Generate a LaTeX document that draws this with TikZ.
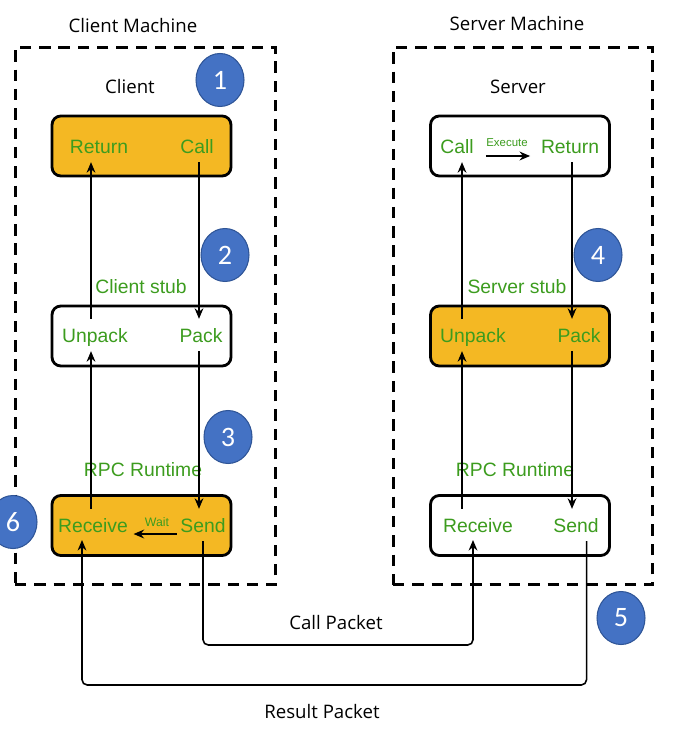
\documentclass[tikz,border=0pt]{standalone}
\usepackage{fontspec}
\setmainfont{Open Sans}
\newfontfamily\arialfont{Liberation Sans}
\newfontfamily\calfont{Carlito}
\usetikzlibrary{arrows.meta,shapes.geometric}
\definecolor{rpcorange}{HTML}{F4B823}
\definecolor{rpcgreen}{HTML}{3C9C1E}
\definecolor{rpcblue}{HTML}{4472C4}
\definecolor{rpcblueline}{HTML}{2F5597}
\tikzset{
  machine/.style={draw, line width=1.7pt, dash pattern=on 6.5pt off 4.5pt, minimum height=10.76cm, inner sep=0pt},
  stage/.style={draw, line width=1.6pt, rounded corners=5pt, minimum width=3.58cm, minimum height=1.2cm, inner sep=0pt},
  lbl/.style={text=rpcgreen, font=\arialfont\fontsize{11}{13}\selectfont, text height=8pt, text depth=0pt, inner sep=5pt},
  tiny/.style={text=rpcgreen, font=\arialfont\fontsize{7}{8}\selectfont, inner sep=1pt},
  title/.style={font=\fontsize{10.6}{12}\selectfont, inner sep=1pt},
  badge/.style={ellipse, draw=rpcblueline, fill=rpcblue, line width=0.6pt, minimum width=0.96cm, minimum height=1.06cm, text=white, font=\calfont\fontsize{16}{18}\selectfont, inner sep=0pt},
  arr/.style={-{Stealth[length=6pt,width=5pt]}, line width=0.9pt},
}
\begin{document}
\begin{tikzpicture}[x=0.02cm, y=-0.02cm]
\useasboundingbox (0,0) rectangle (697,739);

% machines
\node[machine, minimum width=5.22cm] (cMach) at (145.5,316) {};
\node[machine, minimum width=5.2cm] (sMach) at (523,316) {};
\node[title] (cMachT) at (133,26) {Client Machine};
\node[title] (sMachT) at (517,24) {Server Machine};
\node[title] (cTop) at (130,87) {Client};
\node[title] (sTop) at (518,87) {Server};

% client side boxes
\node[stage, fill=rpcorange] (cApp) at (141.5,146) {};
\node[stage, fill=white] (cStub) at (141.5,336) {};
\node[stage, fill=rpcorange] (cRun) at (141.5,525.5) {};
\node[lbl] (cRet) at (99,146) {Return};
\node[lbl] (cCall) at (197,146) {Call};
\node[lbl] (cUnpack) at (95,335) {Unpack};
\node[lbl] (cPack) at (201,335) {Pack};
\node[lbl] (cRecv) at (93,525) {Receive};
\node[lbl] (cSend) at (203,525) {Send};
\node[lbl] (cStubT) at (141,286) {Client stub};
\node[lbl] (cRunT) at (143,469) {RPC Runtime};
\node[tiny] (cWait) at (157,522) {Wait};

% server side boxes
\node[stage, fill=white] (sApp) at (520,146) {};
\node[stage, fill=rpcorange] (sStub) at (520,336) {};
\node[stage, fill=white] (sRun) at (520,525.5) {};
\node[lbl] (sCall) at (457,146) {Call};
\node[lbl] (sRet) at (570,146) {Return};
\node[lbl] (sUnpack) at (473,335) {Unpack};
\node[lbl] (sPack) at (579,335) {Pack};
\node[lbl] (sRecv) at (478,525) {Receive};
\node[lbl] (sSend) at (576,525) {Send};
\node[lbl] (sStubT) at (517,286) {Server stub};
\node[lbl] (sRunT) at (515,469) {RPC Runtime};
\node[tiny, font=\arialfont\fontsize{6.5}{8}\selectfont] (sExec) at (507,143) {Execute};

% columns
\coordinate (cL) at (91,0);
\coordinate (cR) at (199,0);
\coordinate (sL) at (462,0);
\coordinate (sR) at (572,0);

% client arrows
\draw[arr] (cRecv.north -| cL) -- (cUnpack.south -| cL);
\draw[arr] (cUnpack.north -| cL) -- (cRet.south -| cL);
\draw[arr] (cCall.south -| cR) -- (cPack.north -| cR);
\draw[arr] (cPack.south -| cR) -- (cSend.north -| cR);
\draw[arr, line width=1.2pt] ([xshift=3]cSend.west |- 0,534) -- ([xshift=-2]cRecv.east |- 0,534);

% server arrows
\draw[arr] (sRecv.north -| sL) -- (sUnpack.south -| sL);
\draw[arr] (sUnpack.north -| sL) -- (sCall.south -| sL);
\draw[arr] (sRet.south -| sR) -- (sPack.north -| sR);
\draw[arr] (sPack.south -| sR) -- (sSend.north -| sR);
\draw[arr, line width=1.1pt] (sCall.east |- 0,156) ++(3,0) -- ([xshift=-1]sRet.west |- 0,156);

% packets
\coordinate (callLow) at (0,645);
\coordinate (resLow) at (0,685);
\draw[arr, rounded corners=3pt] (cSend.south) -- (cSend.south |- callLow) -- (473,645) -- (473,540);
\draw[arr, rounded corners=3pt] ([xshift=6]sSend.south) -- ([xshift=6]sSend.south |- resLow) -- (82,685) -- (82,540);
\node[title] (callT) at (336,623) {Call Packet};
\node[title] (resT) at (322,712) {Result Packet};

% steps
\node[badge] (n1) at (220,80) {1};
\node[badge] (n2) at (225,255) {2};
\node[badge] (n3) at (228,437) {3};
\node[badge] (n4) at (598,255) {4};
\node[badge] (n5) at (621,618) {5};
\node[badge] (n6) at (13,522) {6};
\end{tikzpicture}
\end{document}
